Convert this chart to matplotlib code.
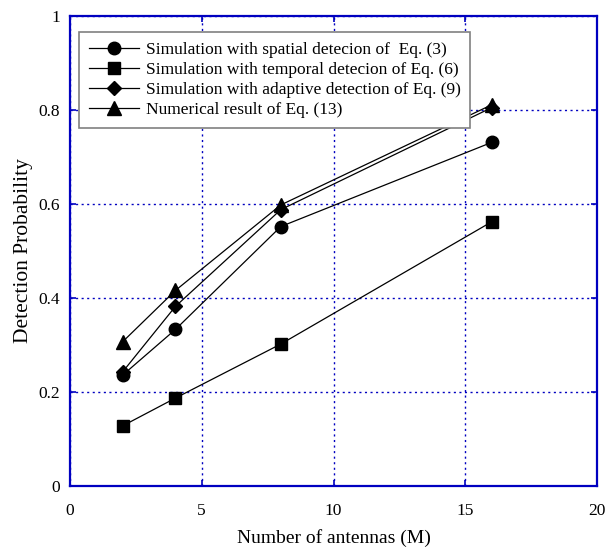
import matplotlib
matplotlib.use("Agg")
import matplotlib.pyplot as plt

plt.rcParams['font.family'] = ['Liberation Serif', 'DejaVu Serif']

antennas = [2, 4, 8, 16]
spatial = [0.236, 0.333, 0.552, 0.731]
temporal = [0.128, 0.187, 0.302, 0.562]
adaptive = [0.243, 0.382, 0.588, 0.805]
numerical = [0.307, 0.416, 0.598, 0.811]

labels = ["Simulation with spatial detecion of  Eq. (3)",
          "Simulation with temporal detecion of Eq. (6)",
          "Simulation with adaptive detection of Eq. (9)",
          "Numerical result of Eq. (13)"]

x_ticks = [0, 5, 10, 15, 20]
y_ticks = [0, 0.2, 0.4, 0.6, 0.8, 1]
x_ticklabels = ["0", "5", "10", "15", "20"]
y_ticklabels = ["0", "0.2", "0.4", "0.6", "0.8", "1"]

axis_blue = '#0000c0'


def main():
    fig = plt.figure(figsize=(6.06, 5.5), dpi=100)
    ax = fig.add_axes([70 / 606, 64 / 550, 527 / 606, 470 / 550])

    ax.plot(antennas, spatial, color='k', lw=0.9, marker='o', ms=9, label=labels[0])
    ax.plot(antennas, temporal, color='k', lw=0.9, marker='s', ms=9, label=labels[1])
    ax.plot(antennas, adaptive, color='k', lw=0.9, marker='D', ms=7.5, label=labels[2])
    ax.plot(antennas, numerical, color='k', lw=0.9, marker='^', ms=9.5, label=labels[3])

    ax.set_xlim(0, 20)
    ax.set_ylim(0, 1)
    ax.set_xticks(x_ticks)
    ax.set_xticklabels(x_ticklabels)
    ax.set_yticks(y_ticks)
    ax.set_yticklabels(y_ticklabels)
    ax.tick_params(direction='in', length=4, width=1.2, color=axis_blue,
                   labelsize=12.5, top=True, right=True)
    ax.tick_params(axis='x', pad=12)
    ax.tick_params(axis='y', pad=7)

    ax.grid(True, color=axis_blue, linestyle=(0, (1.5, 2.5)), linewidth=1)
    for s in ax.spines.values():
        s.set_color(axis_blue)
        s.set_linewidth(1.6)

    ax.set_xlabel("Number of antennas (M)", fontsize=14, labelpad=7.5)
    ax.set_ylabel("Detection Probability", fontsize=15.5, labelpad=4)

    leg = ax.legend(loc='upper left', bbox_to_anchor=(0.018, 0.965), borderaxespad=0,
                    fancybox=False, edgecolor='#808080', framealpha=1, fontsize=12.5,
                    handlelength=2.9, labelspacing=0.22, borderpad=0.55,
                    handletextpad=0.38)
    leg.get_frame().set_linewidth(1.2)

    fig.savefig("out.png", dpi=100)


if __name__ == "__main__":
    main()
